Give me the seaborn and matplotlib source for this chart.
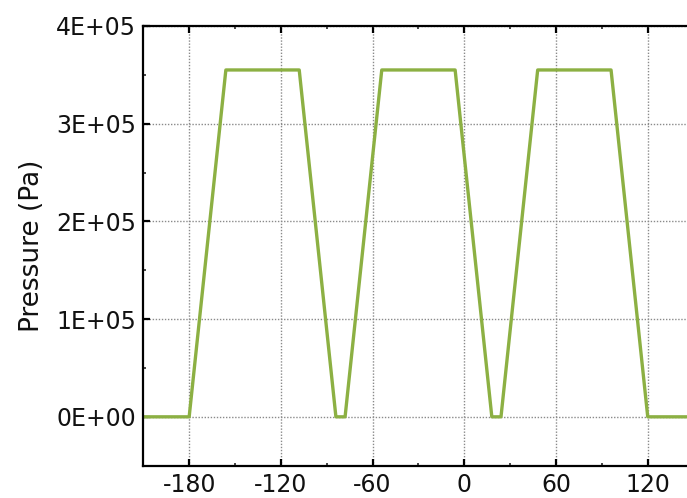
import matplotlib
matplotlib.use("Agg")
import matplotlib.pyplot as plt
from matplotlib.ticker import FuncFormatter, MultipleLocator
import seaborn as sns
import pandas as pd

# crank angle (deg) and pressure (Pa)
angle = [-210, -180, -156, -108, -84, -78, -54, -6, 18, 24, 48, 96, 120, 150]
pressure = [0, 0, 355000, 355000, 0, 0, 355000, 355000, 0, 0, 355000, 355000, 0, 0]

x_ticks = [-180, -120, -60, 0, 60, 120]
y_ticks = [0, 100000, 200000, 300000, 400000]

df = pd.DataFrame({"angle": angle, "pressure": pressure})

sns.set_style("white")
plt.rcParams['font.family'] = ['DejaVu Sans']
plt.rcParams['axes.unicode_minus'] = False
plt.rcParams['text.color'] = "#111111"

fig = plt.figure(figsize=(6.87, 4.98), dpi=100)
ax = fig.add_axes([0.2086, 0.0649, 0.801, 0.8829])

sns.lineplot(data=df, x="angle", y="pressure", color="#8cb043", linewidth=2.4, ax=ax)

ax.set_xlim(-210, 150)
ax.set_ylim(-50000, 400000)
ax.set_xticks(x_ticks)
ax.set_yticks(y_ticks)
ax.xaxis.set_minor_locator(MultipleLocator(30))
ax.yaxis.set_minor_locator(MultipleLocator(50000))
ax.yaxis.set_major_formatter(FuncFormatter(lambda v, p: '{:.0E}'.format(v)))

ax.grid(True, which="major", linestyle=(0, (1, 1.2)), color="#8a8a8a", linewidth=1.0)
for s in ax.spines.values():
    s.set_color("black")
    s.set_linewidth(1.6)

ax.tick_params(which="major", direction="in", length=5, width=1.6, top=True, left=True,
               bottom=True, right=False, labelsize=17, pad=5, colors="black",
               labelcolor="#111111")
ax.tick_params(which="minor", direction="in", length=2.5, width=1.2, top=True, left=True,
               bottom=True, right=False)
ax.tick_params(axis="y", which="major", pad=5)

ax.set_xlabel("")
ax.set_ylabel("Pressure (Pa)", fontsize=19, labelpad=8, color="#111111")

fig.savefig("out.png", dpi=100)
